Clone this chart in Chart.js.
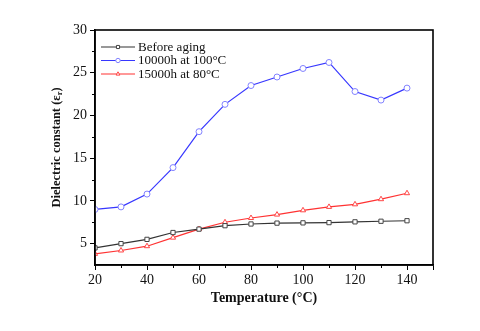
<!DOCTYPE html>
<html>
<head>
<meta charset="utf-8">
<script src="https://cdn.jsdelivr.net/npm/chart.js@4"></script>
<style>
  html, body { margin: 0; padding: 0; background: #fff; }
  #wrap { width: 480px; height: 331px; }
</style>
</head>
<body>
<div id="wrap"><canvas id="chart" width="480" height="331"></canvas></div>
<script>
const temperatures = [20, 30, 40, 50, 60, 70, 80, 90, 100, 110, 120, 130, 140];
const beforeAging = [4.5, 5.0, 5.5, 6.3, 6.7, 7.1, 7.3, 7.4, 7.43, 7.46, 7.55, 7.62, 7.68];
const aged100C = [9.0, 9.3, 10.8, 13.9, 18.1, 21.3, 23.5, 24.5, 25.5, 26.2, 22.8, 21.8, 23.2];
const aged80C = [3.8, 4.2, 4.7, 5.7, 6.7, 7.5, 8.0, 8.4, 8.9, 9.3, 9.6, 10.2, 10.9];
const seriesNames = ['Before aging', '10000h at 100°C', '15000h at 80°C'];
const xMajorTicks = [20, 40, 60, 80, 100, 120, 140, 150];
const yMajorTicks = [5, 10, 15, 20, 25, 30];
const xMinorTicks = [30, 50, 70, 90, 110, 130];
const yMinorTicks = [7.5, 12.5, 17.5, 22.5, 27.5];

const FONT = '"Liberation Serif", "Times New Roman", serif';

function toPoints(values) {
    return temperatures.map((t, i) => ({ x: t, y: values[i] }));
}

function makeDataset(label, values, lineColor, markColor, style) {
    return {
        label: label,
        data: toPoints(values),
        borderColor: lineColor,
        borderWidth: 1.2,
        pointStyle: style,
        pointRadius: 3,
        pointBorderWidth: 1,
        pointBorderColor: markColor,
        pointBackgroundColor: '#fff',
        tension: 0
    };
}

/* =============================================================================
PLUGINS: frame, minor ticks, legend, y title
============================================================================= */

const framePlugin = {
    id: 'frame',
    afterDatasetsDraw(chart) {
        const { ctx, chartArea: a } = chart;
        ctx.save();
        ctx.strokeStyle = '#000';
        ctx.lineWidth = 1.6;
        ctx.strokeRect(a.left, a.top, a.right - a.left, a.bottom - a.top);

        // short minor ticks outside the axes
        ctx.lineWidth = 1;
        ctx.beginPath();
        xMinorTicks.forEach(v => {
            const px = Math.round(chart.scales.x.getPixelForValue(v)) + 0.5;
            ctx.moveTo(px, a.bottom);
            ctx.lineTo(px, a.bottom + 3);
        });
        yMinorTicks.forEach(v => {
            const py = Math.round(chart.scales.y.getPixelForValue(v)) + 0.5;
            ctx.moveTo(a.left, py);
            ctx.lineTo(a.left - 3, py);
        });
        ctx.stroke();
        ctx.restore();
    }
};

const legendPlugin = {
    id: 'insideLegend',
    afterDraw(chart) {
        const { ctx, chartArea: a } = chart;
        ctx.save();
        ctx.font = '13px ' + FONT;
        ctx.textBaseline = 'middle';
        chart.data.datasets.forEach((ds, i) => {
            const y = a.top + 17 + i * 13.5;
            const x0 = a.left + 6;
            const x1 = a.left + 40;
            ctx.strokeStyle = ds.borderColor;
            ctx.lineWidth = 1.2;
            ctx.beginPath();
            ctx.moveTo(x0, y);
            ctx.lineTo(x1, y);
            ctx.stroke();
            ctx.fillStyle = '#fff';
            ctx.strokeStyle = ds.pointBorderColor;
            ctx.lineWidth = 1;
            Chart.helpers.drawPoint(ctx, { pointStyle: ds.pointStyle, radius: 2.2, borderWidth: 1 }, (x0 + x1) / 2, y);
            ctx.fillStyle = '#111';
            ctx.fillText(ds.label, a.left + 43, y + 0.5);
        });
        ctx.restore();
    }
};

const yTitlePlugin = {
    id: 'yTitle',
    afterDraw(chart) {
        const { ctx, chartArea: a } = chart;
        const main = 'Dielectric constant (ε';
        const sub = 'r';
        const tail = ')';
        ctx.save();
        ctx.translate(57, (a.top + a.bottom) / 2);
        ctx.rotate(-Math.PI / 2);
        ctx.fillStyle = '#111';
        ctx.textBaseline = 'middle';
        const bold = 'bold 12.5px ' + FONT;
        const small = 'bold 8.5px ' + FONT;
        ctx.font = bold;
        const w1 = ctx.measureText(main).width;
        const w3 = ctx.measureText(tail).width;
        ctx.font = small;
        const w2 = ctx.measureText(sub).width;
        let x = -(w1 + w2 + w3) / 2;
        ctx.font = bold;
        ctx.fillText(main, x, 0);
        x += w1;
        ctx.font = small;
        ctx.fillText(sub, x, 3);
        x += w2;
        ctx.font = bold;
        ctx.fillText(tail, x, 0);
        ctx.restore();
    }
};

/* =============================================================================
CHART
============================================================================= */

const ctx = document.getElementById('chart').getContext('2d');

const myChart = new Chart(ctx, {
    type: 'line',
    data: {
        datasets: [
            makeDataset(seriesNames[0], beforeAging, '#333', '#444', 'rect'),
            makeDataset(seriesNames[1], aged100C, 'rgb(55,55,255)', 'rgb(130,130,255)', 'circle'),
            makeDataset(seriesNames[2], aged80C, 'rgb(255,50,50)', 'rgb(255,70,70)', 'triangle')
        ]
    },
    options: {
        responsive: false,
        animation: false,
        layout: { padding: { left: 50, top: 30, right: 47, bottom: 0 } },
        plugins: {
            legend: { display: false },
            tooltip: { enabled: false }
        },
        scales: {
            x: {
                type: 'linear',
                min: 20,
                max: 150,
                afterFit: scale => { scale.height = 66; },
                afterBuildTicks: scale => {
                    scale.ticks = xMajorTicks.map(v => ({ value: v }));
                },
                border: { color: '#000', width: 1.6 },
                grid: { drawOnChartArea: false, drawTicks: true, tickLength: 5, color: '#000' },
                ticks: {
                    padding: 2,
                    color: '#111',
                    font: { family: FONT, size: 14 },
                    maxRotation: 0,
                    autoSkip: false,
                    callback: v => (v % 20 === 0 && v <= 140) ? v : ''
                },
                title: {
                    display: true,
                    text: 'Temperature (°C)',
                    color: '#111',
                    font: { family: FONT, size: 14, weight: 'bold' },
                    padding: { top: 24, bottom: 24 }
                }
            },
            y: {
                min: 2.5,
                max: 30,
                afterFit: scale => { scale.width = 45; },
                afterBuildTicks: scale => {
                    scale.ticks = yMajorTicks.map(v => ({ value: v }));
                },
                border: { color: '#000', width: 1.6 },
                grid: { drawOnChartArea: false, drawTicks: true, tickLength: 5, color: '#000' },
                ticks: {
                    padding: 3,
                    color: '#111',
                    font: { family: FONT, size: 14 },
                    autoSkip: false
                },
                title: { display: false }
            }
        }
    },
    plugins: [framePlugin, legendPlugin, yTitlePlugin]
});
</script>
</body>
</html>
